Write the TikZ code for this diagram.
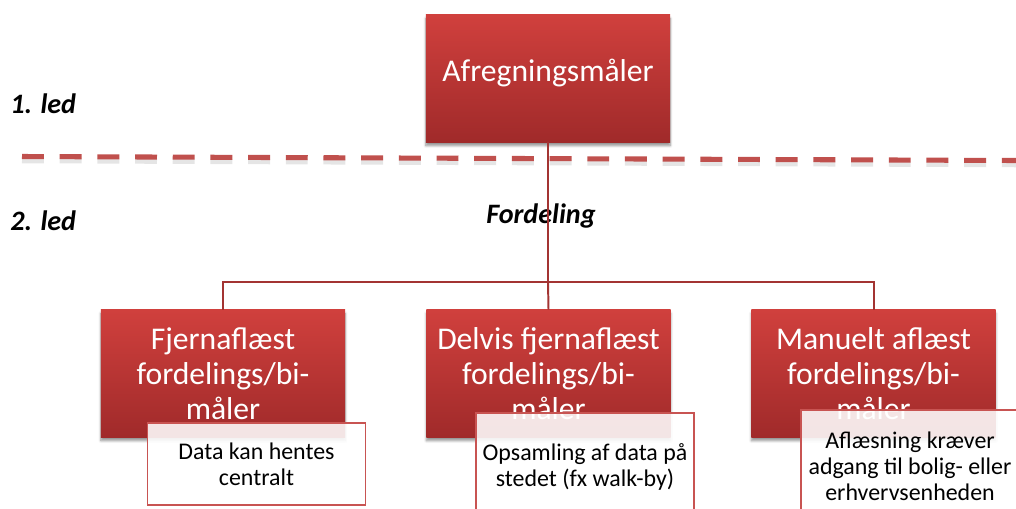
\documentclass[tikz,border=0pt]{standalone}
\usepackage{fontspec}
\setmainfont{Carlito}
\usepackage{tikz}
\usetikzlibrary{calc}
\usetikzlibrary{shadows.blur}
\definecolor{ledtop}{RGB}{208,64,61}
\definecolor{ledbot}{RGB}{160,42,42}
\definecolor{leddash}{RGB}{192,80,77}
\definecolor{ledline}{RGB}{163,52,50}
\definecolor{noteline}{RGB}{200,84,82}
\tikzset{
  meterbox/.style={rectangle, draw=none, top color=ledtop, bottom color=ledbot,
    minimum width=6.1cm, minimum height=3.175cm, inner sep=0pt, text=white,
    align=center, font=\fontsize{22.5}{24.8}\selectfont,
    blur shadow={shadow xshift=0pt, shadow yshift=-2.5pt, shadow blur steps=6, shadow opacity=45}},
  notebox/.style={rectangle, draw=noteline, line width=1.2pt, fill=white, fill opacity=0.88,
    text opacity=1, minimum width=5.45cm, inner sep=0pt, align=center,
    font=\fontsize{17}{18.5}\selectfont},
  conn/.style={ledline, line width=1.4pt},
  ledlabel/.style={anchor=base west, inner sep=0pt, font=\fontsize{20}{24}\bfseries\itshape\selectfont}
}
\newcommand{\leddash}[1]{\draw[#1, line width=3.6pt, dash pattern=on 15.6pt off 11.2pt] (22,156.5) -- (1016,160.5);}

\begin{document}
\begin{tikzpicture}[x=0.025cm, y=-0.025cm]
        \useasboundingbox (0,0) rectangle (1016,508);
        % skillelinje mellem 1. og 2. led
        \leddash{black!25, opacity=0.4, yshift=-3pt}
        \leddash{leddash}
        \node[ledlabel] (led1) at (10,113) {1. led};
        \node[ledlabel] (led2) at (10,230) {2. led};
        % maalere
        \node[meterbox, text height=16pt, text depth=11.5pt] (afr) at (548,78.5) {Afregningsmåler};
        \node[meterbox] (fjern) at (223,373.5) {Fjernaflæst\\fordelings/bi-\\måler};
        \node[meterbox] (delvis) at (548.5,373.5) {Delvis fjernaflæst\\fordelings/bi-\\måler};
        \node[meterbox] (manuel) at (873.5,373.5) {Manuelt aflæst\\fordelings/bi-\\måler};
        \coordinate (split) at (548,282);
        \node[ledlabel] (fordeling) at (486,223) {Fordeling};
        % forbindelser
        \draw[conn] (afr.south) -- (split);
        \draw[conn] (split) -- (delvis.north);
        \draw[conn] (fjern.north) -- (fjern.north |- split) -- (manuel.north |- split) -- (manuel.north);
        % noter
        \node[notebox, minimum height=2.05cm] (fjernnote) at (256.5,464) {Data kan hentes\\centralt};
        \node[notebox, minimum height=2.7cm] (delvisnote) at (585,467) {Opsamling af data på\\stedet (fx walk-by)};
        \node[notebox, minimum height=2.8cm] (manuelnote) at (910,466) {Aflæsning kræver\\adgang til bolig- eller\\erhvervsenheden};
    \end{tikzpicture}
\end{document}
